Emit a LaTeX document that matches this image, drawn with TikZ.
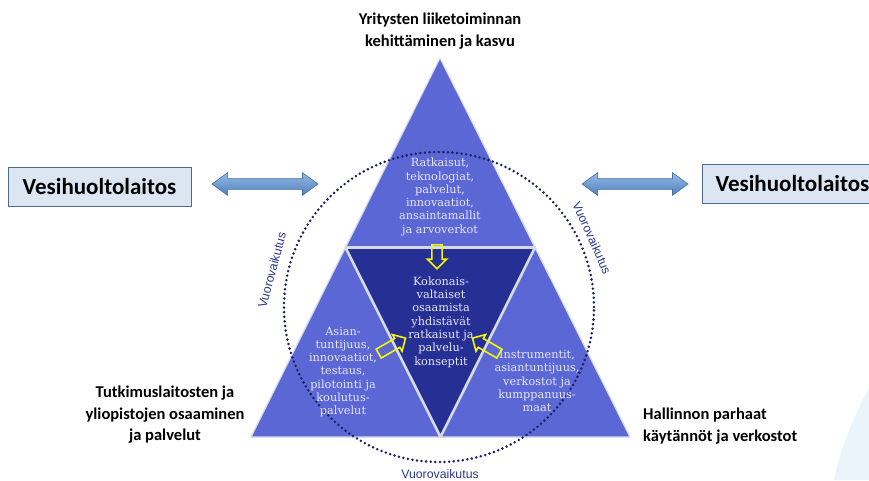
\documentclass[tikz,border=0pt]{standalone}
\usepackage{fontspec}
\setmainfont{Carlito}
\newfontfamily\innerfont{DejaVu Serif}
\newfontfamily\ringfont{Liberation Sans}
\usetikzlibrary{shapes.arrows}

\definecolor{sidetri}{RGB}{92,103,214}
\definecolor{coretri}{RGB}{38,48,148}
\definecolor{seam}{RGB}{214,218,230}
\definecolor{ringdot}{RGB}{28,32,96}
\definecolor{ringtext}{RGB}{44,56,140}
\definecolor{boxfill}{RGB}{220,230,242}
\definecolor{boxline}{RGB}{79,106,143}
\definecolor{arrowtop}{RGB}{150,186,230}
\definecolor{arrowbot}{RGB}{79,129,189}
\definecolor{innertext}{RGB}{228,230,245}
\definecolor{paleblue}{RGB}{236,244,251}
\definecolor{hollowyellow}{RGB}{246,246,0}

\tikzset{
  vbox/.style={draw=boxline, line width=0.9pt, fill=boxfill, inner sep=0pt,
    font=\fontsize{23}{26}\selectfont\bfseries, minimum height=39pt},
  dblarrow/.style={double arrow, inner sep=5pt, double arrow head extend=6pt,
    double arrow tip angle=72, minimum height=106pt,
    top color=arrowtop, bottom color=arrowbot, draw=arrowbot!85!black, line width=0.6pt},
  hollow/.style={single arrow, draw=hollowyellow, line width=1.6pt, inner sep=4.3pt,
    single arrow head extend=4.5pt, single arrow tip angle=90, anchor=tail},
  cornerlabel/.style={font=\fontsize{16.5}{21.5}\selectfont\bfseries, inner sep=0pt},
  innertxt/.style={font=\innerfont\fontsize{11.3}{13.3}\selectfont, text=innertext,
    align=center, inner sep=0pt},
  ringlabel/.style={font=\ringfont\fontsize{12.3}{14}\selectfont, text=ringtext, inner sep=0pt}
}

\begin{document}
\begin{tikzpicture}[x=1pt,y=-1pt]
\useasboundingbox (0,0) rectangle (869,480);
\fill[white] (0,0) rectangle (869,480);

% pale backdrop curve in the lower right corner
\fill[paleblue] (869,388) .. controls (852,420) and (840,450) .. (834,480) -- (869,480) -- cycle;

% corner points of the large triangle and of the inverted core
\coordinate (apex) at (440,58);
\coordinate (bl) at (251,437);
\coordinate (br) at (630,437);
\coordinate (ml) at (345.5,247.5);
\coordinate (mr) at (535,247.5);
\coordinate (mb) at (440.5,437);

\fill[sidetri] (apex) -- (br) -- (bl) -- cycle;
\fill[coretri] (ml) -- (mr) -- (mb) -- cycle;
\draw[seam, line width=1.2pt, line join=round] (apex) -- (br) -- (bl) -- cycle;
\draw[seam, line width=2.6pt, line join=round] (ml) -- (mr) -- (mb) -- cycle;

% dotted interaction ring
\draw[ringdot, line width=2.8pt, line cap=round, dash pattern=on 0pt off 4.6pt]
  (439,307) circle (155pt);

% texts inside the four triangles
\node[innertxt] (ttop) at (440,197) {Ratkaisut,\\teknologiat,\\palvelut,\\innovaatiot,\\ansaintamallit\\ja arvoverkot};
\node[innertxt] (tcore) at (441,322) {Kokonais-\\valtaiset\\osaamista\\yhdistävät\\ratkaisut ja\\palvelu-\\konseptit};
\node[innertxt] (tleft) at (343,372) {Asian-\\tuntijuus,\\innovaatiot,\\testaus,\\pilotointi ja\\koulutus-\\palvelut};
\node[innertxt] (tright) at (537,381) {Instrumentit,\\asiantuntijuus,\\verkostot ja\\kumppanuus-\\maat};

% hollow yellow arrows pointing into the core
\node[hollow, rotate=-90, minimum height=24pt] (yt) at (437,244) {};
\node[hollow, rotate=30, minimum height=31pt] (yl) at (378,354) {};
\node[hollow, rotate=150, minimum height=31pt] (yr) at (500,354) {};

% ring labels
\node[ringlabel, rotate=75] (vl) at (272,270) {Vuorovaikutus};
\node[ringlabel, rotate=-66] (vr) at (592,238) {Vuorovaikutus};
\node[ringlabel] (vb) at (440,474) {Vuorovaikutus};

% corner captions
\node[cornerlabel, align=center] (ctop) at (440,31) {Yritysten liiketoiminnan\\kehittäminen ja kasvu};
\node[cornerlabel, align=center] (cleft) at (165,415) {Tutkimuslaitosten ja\\yliopistojen osaaminen\\ja palvelut};
\node[cornerlabel, align=left, anchor=west] (cright) at (643,426) {Hallinnon parhaat\\käytännöt ja verkostot};

% water utility boxes and their two-way arrows
\node[vbox, minimum width=183pt] (wl) at (99.5,187) {Vesihuoltolaitos};
\node[vbox, minimum width=180pt, anchor=west] (wr) at (702,184) {Vesihuoltolaitos};
\node[dblarrow] (al) at (265,184) {};
\node[dblarrow] (ar) at (635,184) {};
\end{tikzpicture}
\end{document}
